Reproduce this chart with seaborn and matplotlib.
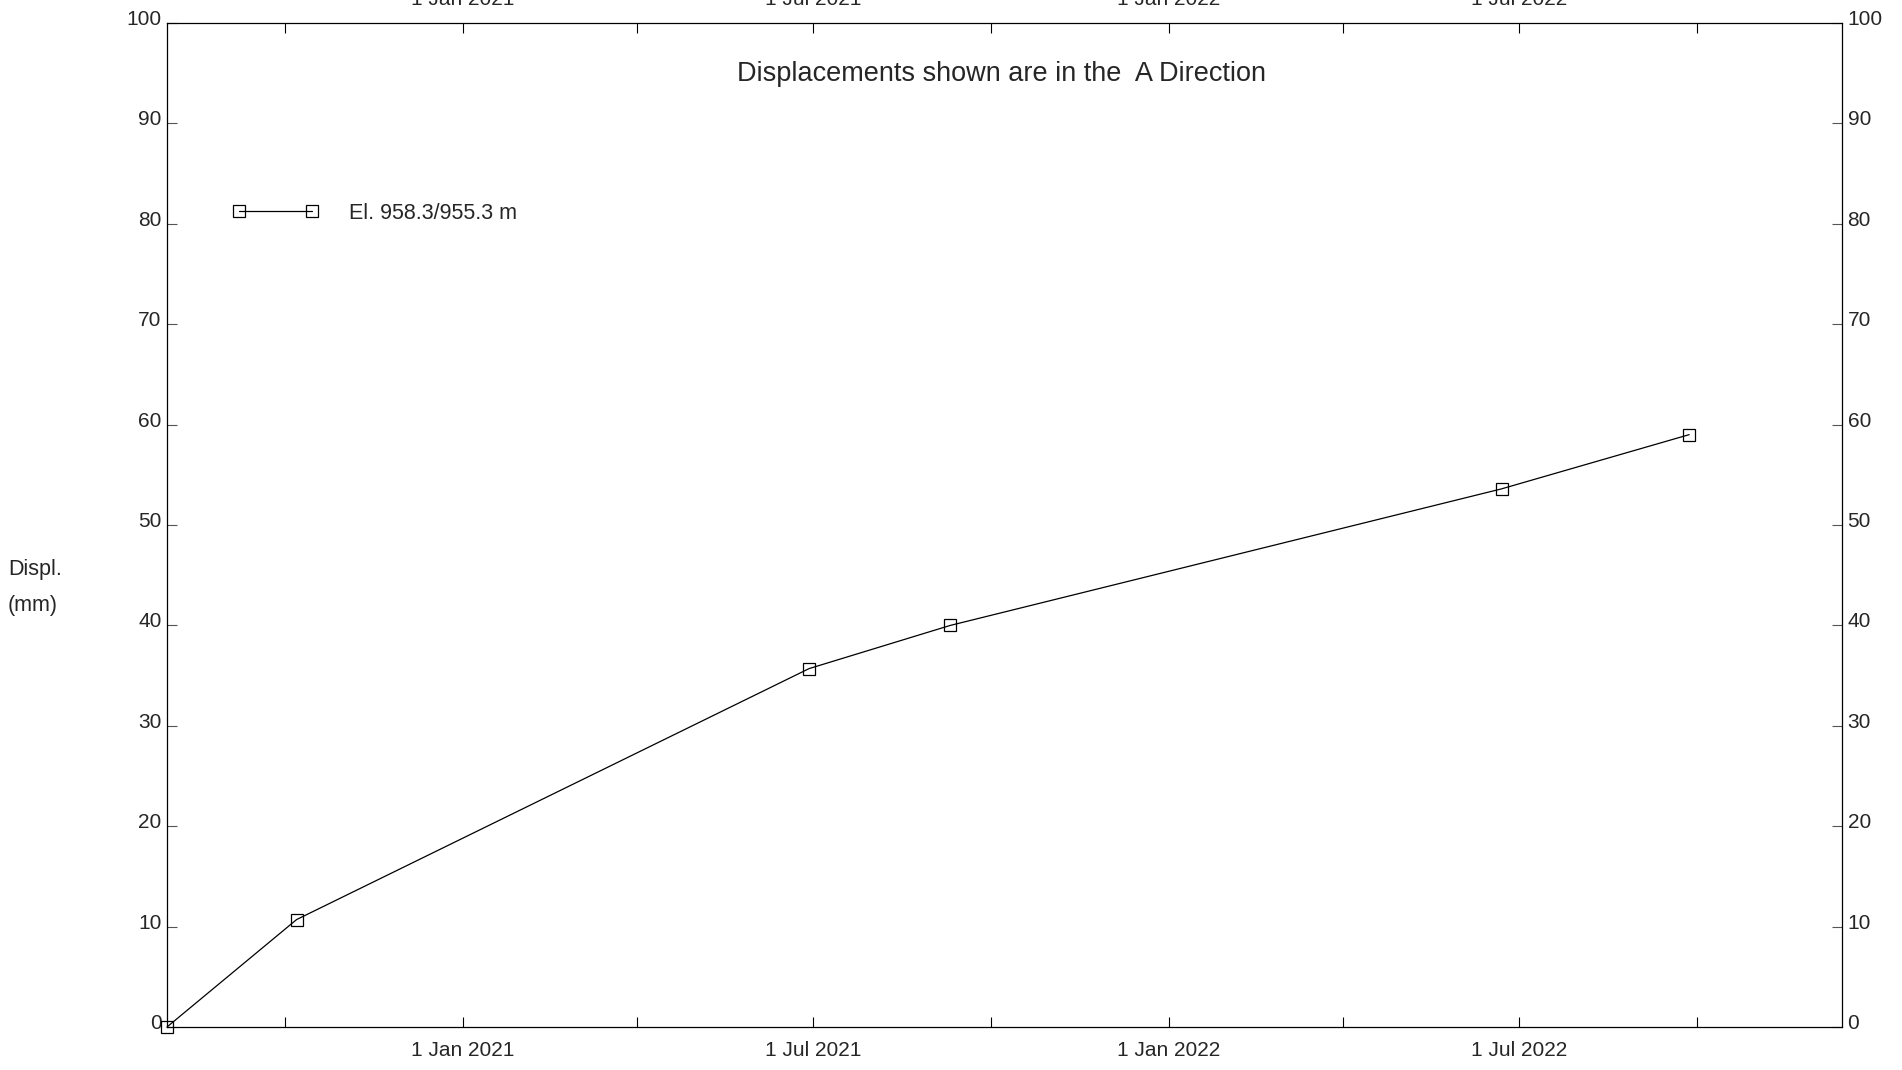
import numpy as np
import pandas as pd
import matplotlib
matplotlib.use('Agg')
import matplotlib.pyplot as plt
import matplotlib.dates as mdates
import matplotlib.transforms as mtransforms
import seaborn as sns

# readings for the El. 958.3/955.3 m gauge
dates = ['2020-08-01', '2020-10-07', '2021-06-29', '2021-09-10', '2022-06-22', '2022-09-27']
displ = [0.0, 10.7, 35.7, 40.0, 53.6, 59.0]
series_name = 'El. 958.3/955.3 m'
title = 'Displacements shown are in the  A Direction'
x_start, x_end = '2020-08-01', '2022-12-15'
y_ticks = list(range(0, 101, 10))

df = pd.DataFrame({'date': pd.to_datetime(dates), 'displ': displ})

sns.set_style('ticks')
plt.rcParams['font.family'] = ['Liberation Sans', 'DejaVu Sans']

fig = plt.figure(figsize=(19.02, 10.70), dpi=100)
ax = fig.add_axes([167 / 1902, 1 - 1027 / 1070, 1675 / 1902, 1004 / 1070])

sns.lineplot(data=df, x='date', y='displ', ax=ax, color='black', linewidth=0.9,
             marker='s', markersize=8, markerfacecolor='none', markeredgecolor='black',
             markeredgewidth=0.9, label=series_name, clip_on=False, zorder=5)

ax.set_xlim(pd.Timestamp(x_start), pd.Timestamp(x_end))
ax.set_ylim(0, 100)
ax.set_yticks(y_ticks)
ax.xaxis.set_major_locator(mdates.MonthLocator(bymonth=[1, 7]))
ax.xaxis.set_minor_locator(mdates.MonthLocator(bymonth=[4, 10]))
ax.xaxis.set_major_formatter(mdates.DateFormatter('%-d %b %Y'))
ax.set_xlabel('')
ax.set_ylabel('')

ax.tick_params(which='both', direction='in', length=7, width=0.8, color='black',
               top=True, right=True, labeltop=True, labelright=True, labelsize=15)
ax.tick_params(axis='x', which='both', pad=10)
ax.tick_params(axis='y', pad=4, color='#555555')

for s in ax.spines.values():
    s.set_visible(True)
    s.set_color('black')
    s.set_linewidth(0.9)

ax.text(0.498, 0.9494, title, transform=ax.transAxes, ha='center', va='center', fontsize=19.5)

fig.text(8 / 1902, 1 - 570 / 1070, 'Displ.', ha='left', va='center', fontsize=15.5)
fig.text(8 / 1902, 1 - 606 / 1070, '(mm)', ha='left', va='center', fontsize=15.5)

ax.legend(loc='center left', bbox_to_anchor=(0.039, 0.8103), frameon=False, numpoints=2,
          handlelength=4.0, handletextpad=1.4, borderpad=0, borderaxespad=0, fontsize=15.5)

# y tick labels sit a little above their ticks in the original
lift = mtransforms.ScaledTranslation(0, 5.5 / 100, fig.dpi_scale_trans)
for tick in ax.yaxis.get_major_ticks():
    tick.label1.set_transform(tick.label1.get_transform() + lift)
    tick.label2.set_transform(tick.label2.get_transform() + lift)

fig.savefig('out.png', dpi=100)
